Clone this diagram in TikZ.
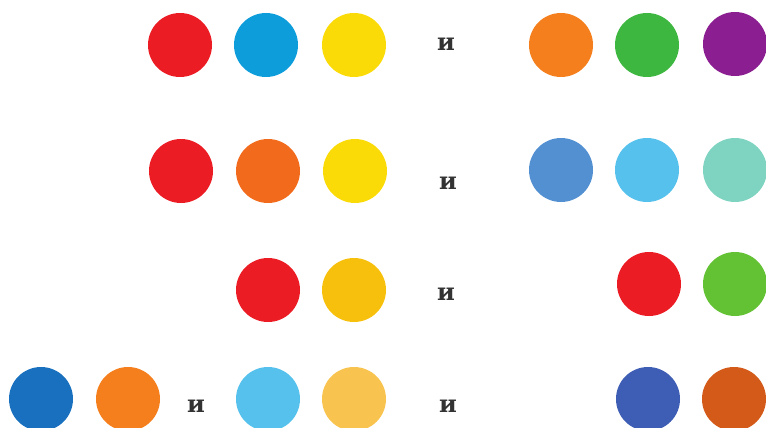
\documentclass[tikz,border=0pt]{standalone}
\usepackage{fontspec}
\setmainfont{DejaVu Serif}
\definecolor{cred}{HTML}{EC1C24}
\definecolor{cblue}{HTML}{0D9DDB}
\definecolor{cyellow}{HTML}{FBDB07}
\definecolor{corange}{HTML}{F47F1C}
\definecolor{cgreen}{HTML}{3DB73F}
\definecolor{cpurple}{HTML}{8B1E91}
\definecolor{cdeeporange}{HTML}{F26B1D}
\definecolor{csteel}{HTML}{5290D2}
\definecolor{csky}{HTML}{55C1EC}
\definecolor{cmint}{HTML}{7FD3C1}
\definecolor{camber}{HTML}{F7C00C}
\definecolor{clime}{HTML}{62C233}
\definecolor{cnavy}{HTML}{1870BE}
\definecolor{csand}{HTML}{F8C34E}
\definecolor{croyal}{HTML}{3E5DB4}
\definecolor{crust}{HTML}{D35A18}
\usetikzlibrary{positioning}

\begin{document}
\begin{tikzpicture}[
  x=1pt, y=-1pt,
  dot/.style={circle, inner sep=0pt, minimum size=64pt},
  conj/.style={font=\bfseries\fontsize{24}{24}\selectfont, text=black!80, inner sep=0pt}
]
  \useasboundingbox (0,0) rectangle (766,428);

  % Row 1
  \node[dot, fill=cred] (r1a) at (180,45) {};
  \node[dot, fill=cblue] (r1b) at (266,45) {};
  \node[dot, fill=cyellow] (r1c) at (354,45) {};
  \node[conj] (and1) at (446,44) {и};
  \node[dot, fill=corange] (r1d) at (561,45) {};
  \node[dot, fill=cgreen] (r1e) at (647,45) {};
  \node[dot, fill=cpurple] (r1f) at (735,44) {};

  % Row 2
  \node[dot, fill=cred] (r2a) at (181,171) {};
  \node[dot, fill=cdeeporange] (r2b) at (268,171) {};
  \node[dot, fill=cyellow] (r2c) at (355,171) {};
  \node[conj] (and2) at (448,183) {и};
  \node[dot, fill=csteel] (r2d) at (561,170) {};
  \node[dot, fill=csky] (r2e) at (647,170) {};
  \node[dot, fill=cmint] (r2f) at (735,170) {};

  % Row 3
  \node[dot, fill=cred] (r3a) at (268,290) {};
  \node[dot, fill=camber] (r3b) at (354,290) {};
  \node[conj] (and3) at (446,294) {и};
  \node[dot, fill=cred] (r3c) at (649,284) {};
  \node[dot, fill=clime] (r3d) at (735,284) {};

  % Row 4
  \node[dot, fill=cnavy] (r4a) at (41,399) {};
  \node[dot, fill=corange] (r4b) at (128,399) {};
  \node[conj] (and4) at (196,406) {и};
  \node[dot, fill=csky] (r4c) at (268,399) {};
  \node[dot, fill=csand] (r4d) at (354,399) {};
  \node[conj] (and5) at (448,406) {и};
  \node[dot, fill=croyal] (r4e) at (648,399) {};
  \node[dot, fill=crust] (r4f) at (734,399) {};
\end{tikzpicture}
\end{document}
